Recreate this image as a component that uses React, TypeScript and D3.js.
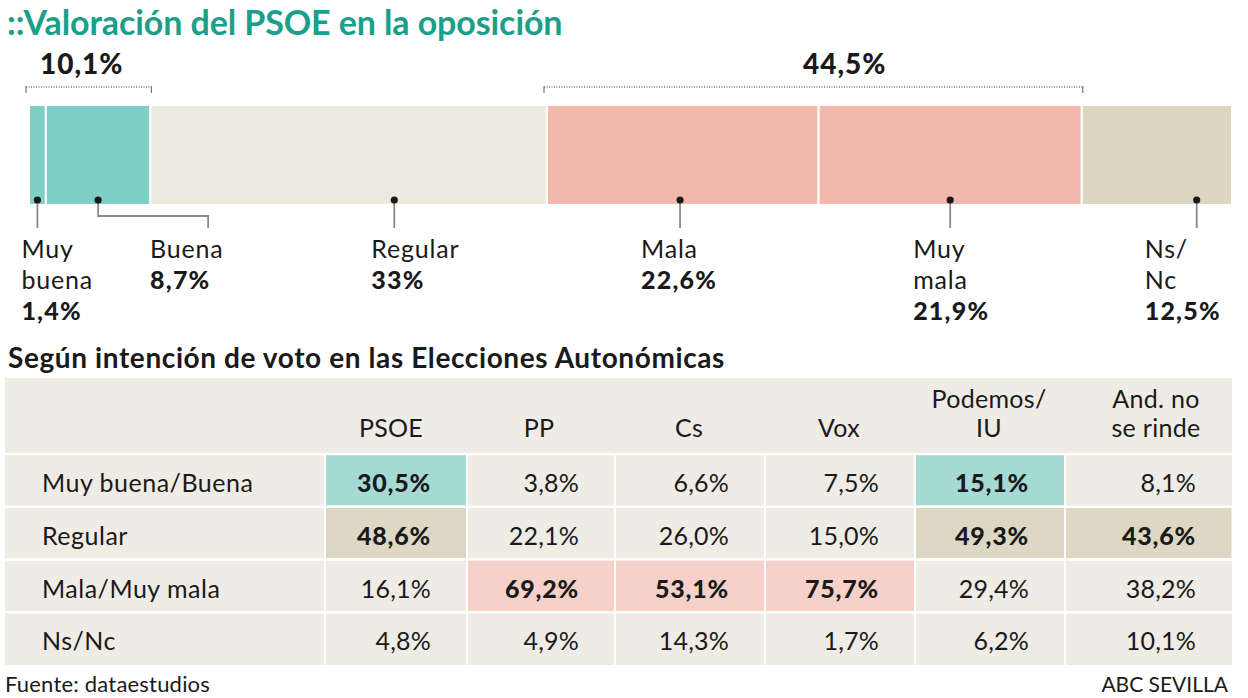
import React from "react";
import * as d3 from "d3";

// ---------- data ----------
const segLabels = ["Muy\nbuena", "Buena", "Regular", "Mala", "Muy\nmala", "Ns/\nNc"];
const segValues = [1.4, 8.7, 33, 22.6, 21.9, 12.5];
const segColors = ["#7ecfc6", "#7ecfc6", "#ece9df", "#f2b8ab", "#f2b8ab", "#dcd6c0"];

const groupLabels = ["10,1%", "44,5%"];
const groupRanges = [[0, 2], [3, 5]]; // segment index ranges

const parties = ["PSOE", "PP", "Cs", "Vox", "Podemos/\nIU", "And. no\nse rinde"];
const rowLabels = ["Muy buena/Buena", "Regular", "Mala/Muy mala", "Ns/Nc"];
const rowMuyBuenaBuena = [30.5, 3.8, 6.6, 7.5, 15.1, 8.1];
const rowRegular = [48.6, 22.1, 26.0, 15.0, 49.3, 43.6];
const rowMalaMuyMala = [16.1, 69.2, 53.1, 75.7, 29.4, 38.2];
const rowNsNc = [4.8, 4.9, 14.3, 1.7, 6.2, 10.1];
const rowHighlight = [
  [1, 0, 0, 0, 1, 0],
  [1, 0, 0, 0, 1, 1],
  [0, 1, 1, 1, 0, 0],
  [0, 0, 0, 0, 0, 0],
];

// ---------- layout ----------
const W = 1248;
const H = 698;
const FONT = "Lato, 'Open Sans', sans-serif";
const barX0 = 29, barX1 = 1232, barY0 = 105, barY1 = 205;
const dotFrac = [0.5, 0.5, 0.615, 0.49, 0.5, 0.765];
const labelOffset = [16, 58, 23, 39, 37, 52];
const groupTextX = [40, 803];
const tableX0 = 5, tableX1 = 1232, tableY0 = 378, headerY1 = 454, tableY1 = 665;
const colEdges = [tableX0, 325, 467, 615, 765, 915, 1065, tableX1];
const valueRightPad = 36;
const highlightColors = ["#a5dad4", "#ddd7c4", "#f7d0c9", "#efebe5"];

const fmtBar = (v: number) => d3.format("~r")(v).replace(".", ",") + "%";
const fmtTab = (v: number) => d3.format(".1f")(v).replace(".", ",") + "%";

export default function App() {
  const total = d3.sum(segValues);
  const x = d3.scaleLinear().domain([0, total]).range([barX0, barX1]);
  const cum = segValues.map((_, i) => d3.sum(segValues.slice(0, i)));
  const rows = [rowMuyBuenaBuena, rowRegular, rowMalaMuyMala, rowNsNc];
  const yRow = d3.scaleBand<number>().domain(d3.range(rows.length)).range([headerY1, tableY1]);

  return (
    <svg width={W} height={H} style={{ display: "block", position: "absolute", left: 0, top: 0 }} fontFamily={FONT}>
      <rect width={W} height={H} fill="#ffffff" />
      <text x={7} y={35} fontSize={34} fontWeight={700} fill="#19a08a" letterSpacing={-0.1}>
        ::Valoración del PSOE en la oposición
      </text>

      {/* group brackets */}
      {groupRanges.map((r, gi) => {
        const gx0 = x(cum[r[0]]) - 3;
        const gx1 = x(cum[r[1]]) + 1;
        return (
          <g key={gi}>
            <line x1={gx0} x2={gx1} y1={87} y2={87} stroke="#777" strokeWidth={1.5} strokeDasharray="1 1.5" />
            <line x1={gx0} x2={gx0} y1={86} y2={93} stroke="#777" strokeWidth={1.2} />
            <line x1={gx1} x2={gx1} y1={86} y2={93} stroke="#777" strokeWidth={1.2} />
            <text x={groupTextX[gi]} y={74} fontSize={28} fontWeight={900} fill="#1a1a1a" letterSpacing={1}>
              {groupLabels[gi]}
            </text>
          </g>
        );
      })}

      {/* bar segments */}
      {segValues.map((v, i) => (
        <rect key={i} x={x(cum[i])} y={barY0} width={x(cum[i] + v) - x(cum[i])} height={barY1 - barY0}
          fill={segColors[i]} stroke="#ffffff" strokeWidth={2} />
      ))}

      {/* leaders, dots, labels */}
      {segValues.map((v, i) => {
        const dx = x(cum[i] + v * dotFrac[i]);
        let path = `M${dx},200 V228`;
        let endX = dx;
        if (i === 1) {
          endX = dx + 110;
          path = `M${dx},200 V216 H${endX} V228`;
        }
        const lx = endX - labelOffset[i];
        const lines = segLabels[i].split("\n");
        return (
          <g key={i}>
            <path d={path} fill="none" stroke="#8a8a8a" strokeWidth={1.8} />
            <circle cx={dx} cy={200} r={3.6} fill="#1a1a1a" />
            {lines.map((t, k) => (
              <text key={k} x={lx} y={258 + k * 31} fontSize={25} fill="#1a1a1a" letterSpacing={0.8}>{t}</text>
            ))}
            <text x={lx} y={258 + lines.length * 31} fontSize={25} fontWeight={900} fill="#1a1a1a" letterSpacing={1.2}>
              {fmtBar(v)}
            </text>
          </g>
        );
      })}

      <text x={8} y={368} fontSize={28} fontWeight={700} fill="#1a1a1a" letterSpacing={0.6}>
        Según intención de voto en las Elecciones Autonómicas
      </text>

      {/* table */}
      <rect x={tableX0} y={tableY0} width={tableX1 - tableX0} height={tableY1 - tableY0} fill="#efebe5" />
      {parties.map((p, j) => {
        const cx = colEdges[j + 2] - valueRightPad - 40;
        const lines = p.split("\n");
        return lines.map((t, k) => (
          <text key={j + "-" + k} x={cx} y={437 - (lines.length - 1 - k) * 29} fontSize={25}
            textAnchor="middle" fill="#1a1a1a" letterSpacing={0.3}>{t}</text>
        ));
      })}
      {rows.map((vals, r) => {
        const y0 = yRow(r)!;
        const h = yRow.bandwidth();
        return (
          <g key={r}>
            <line x1={tableX0} x2={tableX1} y1={y0} y2={y0} stroke="#ffffff" strokeWidth={2.5} />
            <text x={42} y={y0 + 38} fontSize={25} fill="#1a1a1a" letterSpacing={0.5}>{rowLabels[r]}</text>
            {vals.map((v, j) => {
              const cx0 = colEdges[j + 1];
              const cx1 = colEdges[j + 2];
              const hl = rowHighlight[r][j];
              return (
                <g key={j}>
                  {hl ? (
                    <rect x={cx0 + 1} y={y0 + 1.25} width={cx1 - cx0 - 2} height={h - 2.5} fill={highlightColors[r]} />
                  ) : null}
                  <text x={cx1 - valueRightPad} y={y0 + 38} fontSize={25} textAnchor="end"
                    fontWeight={hl ? 900 : 400} fill="#1a1a1a" letterSpacing={hl ? 0.8 : 0.2}>{fmtTab(v)}</text>
                </g>
              );
            })}
            {colEdges.slice(1, -1).map((ex, k) => (
              <line key={k} x1={ex} x2={ex} y1={y0} y2={y0 + h} stroke="#ffffff" strokeWidth={2} />
            ))}
          </g>
        );
      })}

      <text x={5} y={692} fontSize={22} fill="#1a1a1a" letterSpacing={0.2}>Fuente: dataestudios</text>
      <text x={1228} y={692} fontSize={21} fill="#1a1a1a" textAnchor="end">ABC SEVILLA</text>
    </svg>
  );
}
